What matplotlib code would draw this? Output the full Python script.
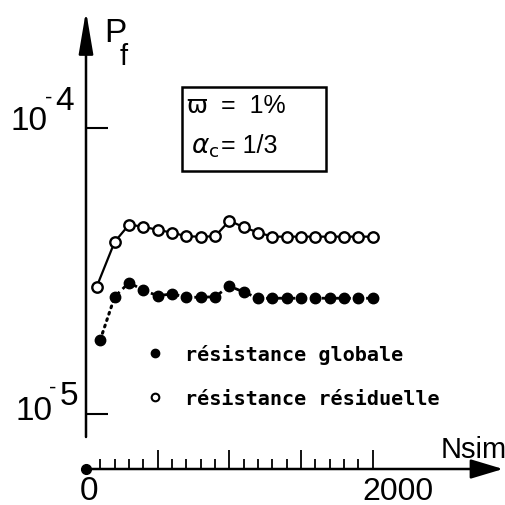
import matplotlib
matplotlib.use("Agg")
import matplotlib.pyplot as plt
from matplotlib.lines import Line2D
from matplotlib.patches import Rectangle
from matplotlib.ticker import FixedLocator, NullLocator

plt.rcParams['mathtext.fontset'] = 'dejavusans'

# ---- data ----
res_x = [75, 200, 300, 400, 500, 600, 700, 800, 900, 1000, 1100, 1200,
         1300, 1400, 1500, 1600, 1700, 1800, 1900, 2000]
res_y = [2.79e-5, 4.00e-5, 4.59e-5, 4.52e-5, 4.40e-5, 4.31e-5, 4.18e-5, 4.17e-5,
         4.18e-5, 4.74e-5, 4.50e-5, 4.31e-5, 4.17e-5, 4.17e-5, 4.17e-5, 4.17e-5,
         4.17e-5, 4.17e-5, 4.17e-5, 4.17e-5]
glob_x = [100, 200, 300, 400, 500, 600, 700, 800, 900, 1000, 1100, 1200,
          1300, 1400, 1500, 1600, 1700, 1800, 1900, 2000]
glob_y = [1.82e-5, 2.57e-5, 2.88e-5, 2.71e-5, 2.59e-5, 2.63e-5, 2.56e-5, 2.56e-5,
          2.57e-5, 2.80e-5, 2.67e-5, 2.54e-5, 2.54e-5, 2.54e-5, 2.54e-5, 2.54e-5,
          2.54e-5, 2.54e-5, 2.54e-5, 2.54e-5]
x_major = [500, 1000, 1500, 2000]
x_minor = [v for v in range(100, 2000, 100) if v % 500 != 0]
y_ticks = [1e-4, 1e-5]
labels = ["résistance globale", "résistance résiduelle"]

W = H = 506
fig = plt.figure(figsize=(W / 100, H / 100), dpi=100)
ax = fig.add_axes([0, 0, 1, 1])
ax.set_yscale('log')
# pixel mapping: x_px = 86 + 0.1434*x ; y_px = 129 + 286*(-4 - log10 y)
sx = 0.1434
ax.set_xlim(-86 / sx, (W - 86) / sx)
ax.set_ylim(10 ** (-4 - (H - 129) / 286), 10 ** (-4 + 129 / 286))
ax.patch.set_visible(False)

ybase = 10 ** (-4 - (470 - 129) / 286)
ytop = 10 ** (-4 + (129 - 12) / 286)
ybot = 10 ** (-4 - (438 - 129) / 286)

for s in ['top', 'right', 'left', 'bottom']:
    ax.spines[s].set_visible(False)
ax.spines['left'].set_position(('data', 0))
ax.spines['bottom'].set_position(('data', ybase))

ax.yaxis.set_major_locator(FixedLocator(y_ticks))
ax.yaxis.set_minor_locator(NullLocator())
ax.xaxis.set_major_locator(FixedLocator(x_major))
ax.xaxis.set_minor_locator(FixedLocator(x_minor))
ax.tick_params(axis='y', which='major', direction='in', length=16, width=1.5,
               labelleft=False)
ax.tick_params(axis='x', which='major', direction='in', length=14, width=1.3,
               labelbottom=False)
ax.tick_params(axis='x', which='minor', direction='in', length=7, width=1.3)

# axis lines with arrows
ax.annotate('', xy=(0, ytop), xytext=(0, ybot),
            arrowprops=dict(arrowstyle='-|>,head_length=1.3,head_width=0.22',
                            mutation_scale=20, lw=1.8, color='black',
                            shrinkA=0, shrinkB=0))
ax.annotate('', xy=((503 - 86) / sx, ybase), xytext=(0, ybase),
            arrowprops=dict(arrowstyle='-|>,head_length=1.0,head_width=0.3',
                            mutation_scale=20, lw=1.8, color='black',
                            shrinkA=0, shrinkB=0))
ax.plot([0], [ybase], 'o', color='black', ms=7, clip_on=False)

# series
ax.plot(res_x, res_y, '-', color='black', lw=1.6, marker='o', ms=7.5,
        mfc='white', mec='black', mew=1.7)
ax.plot(glob_x[:2], glob_y[:2], color='black', lw=2.2, ls=(0, (0.6, 1.6)),
        dash_capstyle='round')
ax.plot(glob_x[1:], glob_y[1:], color='black', lw=2.0, ls=(0, (2.5, 1.5)))
ax.plot(glob_x, glob_y, 'o', color='black', ms=7.5)

FAM = ['Liberation Sans', 'DejaVu Sans']

def T(x, y, s, size, **kw):
    kw.setdefault('family', FAM)
    fig.text(x / W, 1 - y / H, s, fontsize=size, ha='left', va='baseline', **kw)

T(104, 42, "P", 24)
T(120, 65, "f", 21)
T(11, 130, "10", 24)
T(45, 104, "-", 16)
T(55, 110, "4", 24)
T(15, 420, "10", 24)
T(49, 394, "-", 16)
T(60, 405, "5", 24)
T(441, 458, "Nsim", 21)
T(80, 500, "0", 24)
T(362, 500, "2000", 23)

# parameter box
fig.patches.append(Rectangle((182 / W, 1 - 172 / H), (326 - 182) / W, (172 - 88) / H,
                             transform=fig.transFigure, fill=False, lw=1.8,
                             edgecolor='black'))
T(186, 113, "ϖ", 18, family='DejaVu Sans')
T(221, 113, "=  1%", 18)
T(191, 153, r"$\alpha_{\mathrm{c}}$", 19, family='DejaVu Sans')
T(221, 153, "= 1/3", 18)

handles = [Line2D([], [], marker='o', color='black', ls='none', ms=6),
           Line2D([], [], marker='o', mfc='white', mec='black', mew=1.5,
                  ls='none', ms=5.5)]
ax.legend(handles, labels, loc='upper left',
          bbox_to_anchor=(145 / W, 1 - 345 / H), bbox_transform=fig.transFigure,
          frameon=False, borderpad=0, borderaxespad=0, handlelength=1.0,
          handletextpad=1.0, labelspacing=1.25,
          prop=dict(family='DejaVu Sans Mono', weight='bold', size=14.5))

fig.savefig('out.png', dpi=100)
